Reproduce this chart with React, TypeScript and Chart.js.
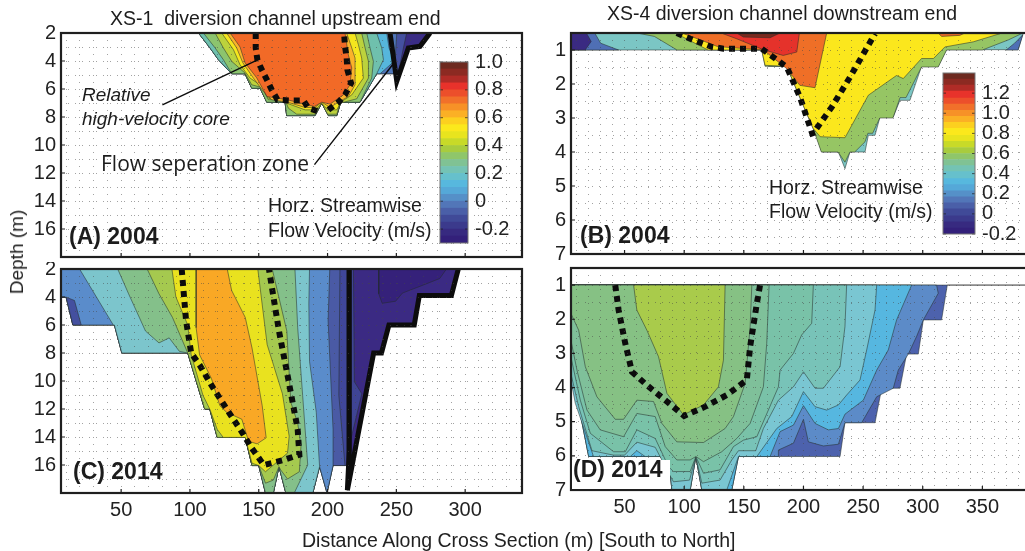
import React, { useEffect, useRef } from "react";
import { Chart, registerables } from "chart.js";

Chart.register(...registerables);

type P = [number, number];

// ---------- Panel A (XS-1, 2004): [distance m, depth m]
const aOutline: P[] = [[106.2,2],[114.6,3.07],[120.7,3.91],[130.4,4.91],[140,4.91],[144.9,5.94],[151,5.94],[155.8,6.94],[169.1,6.94],[170.3,7.9],[190.9,7.9],[195.8,7],[200.6,7.9],[206.7,7.9],[209.6,6.94],[223.6,6.94],[235.7,4.91],[250.3,4.91],[250.3,5.4],[258.7,3.07],[267.2,3.07],[274.5,2]];
const aIndigo: P[] = [[106.2,2],[114.6,3.07],[120.7,3.91],[130.4,4.91],[140,4.91],[144.9,5.94],[151,5.94],[155.8,6.94],[169.1,6.94],[170.3,7.9],[190.9,7.9],[195.8,7],[200.6,7.9],[206.7,7.9],[209.6,6.94],[223.6,6.94],[235.7,4.91],[250.3,4.91],[250.3,5.4],[255.1,3.07],[257.5,2]];
const aBlue: P[] = [[106.2,2],[114.6,3.07],[120.7,3.91],[130.4,4.91],[140,4.91],[144.9,5.94],[151,5.94],[155.8,6.94],[169.1,6.94],[170.3,7.9],[190.9,7.9],[195.8,7],[200.6,7.9],[206.7,7.9],[209.6,6.94],[223.6,6.94],[235.7,4.91],[247.8,4.91],[249,4.03],[250.3,2]];
const aSky: P[] = [[106.2,2],[114.6,3.07],[120.7,3.91],[130.4,4.91],[140,4.91],[144.9,5.94],[151,5.94],[155.8,6.94],[169.1,6.94],[170.3,7.9],[190.9,7.9],[195.8,7],[200.6,7.9],[206.7,7.9],[209.6,6.94],[223.6,6.94],[235.7,4.91],[238.2,4.91],[248.3,4.03],[244.7,3.07],[243,2]];
const aTeal: P[] = [[106.2,2],[114.6,3.07],[120.7,3.91],[130.4,4.91],[140,4.91],[144.9,5.94],[151,5.94],[155.8,6.94],[169.1,6.94],[170.3,7.9],[190.9,7.9],[195.8,7],[200.6,7.9],[206.7,7.9],[209.6,6.94],[223.6,6.94],[235.7,4.91],[240.6,3.91],[239.4,3.07],[235.7,2]];
const aGreen: P[] = [[109.8,2],[118.3,3.07],[124.3,3.91],[130.4,4.91],[140,4.91],[144.9,5.94],[151,5.94],[155.8,6.94],[169.1,6.94],[170.3,7.9],[190.9,7.9],[195.8,7],[200.6,7.9],[206.7,7.9],[209.6,6.94],[223.6,6.94],[232.1,5.22],[233.3,4.03],[230.9,3.07],[228.5,2]];
const aLime: P[] = [[118.3,2],[124.3,3.07],[130.4,4.03],[140,4.86],[144.9,5.7],[152.2,5.89],[157,6.77],[169.1,6.77],[171.5,7.37],[177.6,7.8],[190.9,7.8],[195.8,7.01],[200.1,7.8],[206.7,7.8],[209.1,7.01],[221.2,6.7],[229.7,5.22],[229.7,4.03],[227.3,3.07],[224.8,2]];
const aYellow: P[] = [[123.1,2],[131.6,3.19],[136.4,4.27],[143.7,5.22],[151,5.7],[157,6.65],[170.3,7.01],[183.7,7.49],[190.9,7.49],[195.8,7.01],[200.1,7.49],[206.7,7.49],[209.6,6.94],[217.6,6.42],[226,5.22],[224.8,3.79],[222.4,2.83],[220,2]];
const aAmber: P[] = [[126.7,2],[134,3.07],[138.4,4.12],[146.1,5.22],[153.4,6.18],[159.4,6.77],[170.8,6.94],[183.7,7.32],[190.9,7.32],[195.8,6.94],[201.8,7.32],[207.9,6.94],[215.1,6.54],[220,5.7],[220,3.79],[217.6,3.07],[213.9,2]];
const aOrange: P[] = [[129.2,2],[136.4,3],[140,4.12],[148.5,5.2],[156,6.54],[170.8,6.77],[190.4,7.25],[195.8,6.94],[201.8,7.08],[211.5,6.42],[216.3,5.7],[217.6,4.5],[215.1,3.55],[212.7,2]];
const aThick: P[] = [[245.4,2],[250.3,5.46],[258.7,3.07],[267.2,2.95],[274.5,2]];
const aDashLeft: P[] = [[147.8,2],[147.8,3.07],[149,3.91],[152.2,4.62],[156.3,5.41],[159.4,6.06],[163.6,6.77],[172.8,6.82],[182.5,6.82],[186.1,7.37],[193.3,7.6]];
const aDashRight: P[] = [[200.6,7.49],[207.9,6.94],[212.7,6.42],[217.1,5.58],[214.4,4.62],[213.9,3.79],[212.7,2.95],[212,2]];
const aLeaderCore: P[] = [[80,7.13],[148.8,3.94]];
const aLeaderZone: P[] = [[190.5,11.4],[247.8,4.2]];

// ---------- Panel B (XS-4, 2004)
const bOutline: P[] = [[5,0.5],[5,1],[165,1],[167.8,1.01],[170.6,1.48],[186,1.48],[197.2,2.38],[208.3,3.26],[215.3,4],[229.3,4],[234.8,4.49],[239,4],[251.6,4],[254.4,3.51],[260,3.51],[264.2,2.97],[275.3,2.97],[280.9,2.48],[289.3,2.48],[299,1.48],[313,1.48],[320,0.99],[380,0.99],[384.2,0.5]];
const bBlueLeft: P[] = [[18,0.5],[25,0.5],[30,0.8],[45,1],[5,1],[5,0.5]];
const bPurple: P[] = [[5,0.5],[18,0.5],[22,0.75],[17,1],[5,1]];
const bBlueRight: P[] = [[370,1],[380,1],[384,0.55],[377,0.8]];
const bGreen: P[] = [[60.4,0.5],[75,0.6],[94,1],[165,1],[167.8,1.48],[186,1.48],[197,2.4],[208,3.3],[215,4],[229,4],[234.8,4.3],[239,4],[243,4],[251.6,3.7],[254,3.45],[258,3.45],[264,3],[275,3],[281,2.4],[286,2.4],[299,1.5],[313,1.5],[320,1],[350,1],[372,0.7],[384,0.5]];
const bYellow: P[] = [[92.5,0.5],[120,1],[165,1],[167.8,1.45],[186,1.48],[197,2.4],[208,3.3],[214,3.55],[234.8,3.58],[254.4,2.33],[278,1.75],[283.7,1.84],[299,1.25],[309,1.25],[318.6,0.91],[342.4,0.76],[364.7,0.52]];
const bOrange: P[] = [[98,0.5],[115,0.72],[128,0.9],[166.4,1],[186,1.55],[197,2.04],[209.7,2.11],[219.5,0.5]];
const bRed: P[] = [[131,0.5],[144,0.67],[166.4,0.99],[183,1.16],[194.4,1.06],[196.6,0.5]];
const bDarkRed: P[] = [[144,0.5],[149.7,0.62],[172,0.64],[180.4,0.5]];
const bOrangeRight: P[] = [[313,0.5],[315.8,0.6],[331,0.57],[335.4,0.5]];
const bDashLeft: P[] = [[93.8,0.5],[105,0.67],[123.2,0.91],[133,0.96],[165,0.96],[186,1.5],[197,2.38],[208.3,3.56]];
const bDashRight: P[] = [[211,3.31],[223.7,2.68],[239,1.8],[260,0.52]];

// ---------- Panel C (XS-1, 2014)
const cOutline: P[] = [[6.3,2],[6.3,4.01],[10,4.01],[14.9,6],[45.1,6],[50.5,8],[98.4,8],[110.7,12],[114.4,12],[119.8,14.03],[140.2,14.03],[145.1,16.04],[150,16.04],[154.9,18],[160.6,18],[164.7,16.12],[169.7,18],[189.3,18],[194.2,16.12],[199.6,18],[204,16.04],[213.9,16.04],[214.4,17.81],[233.5,8],[239.2,8],[244.6,6],[263,6],[266.7,3.89],[290,3.89],[295,2]];
const cIndigo: P[] = [[6.3,2],[6.3,4.01],[10,4.01],[14.9,6],[45.1,6],[50.5,8],[98.4,8],[110.7,12],[114.4,12],[119.8,14.03],[140.2,14.03],[145.1,16.04],[150,16.04],[154.9,18],[160.6,18],[164.7,16.12],[169.7,18],[189.3,18],[194.2,16.12],[199.6,18],[204,16.04],[213.9,16.04],[213.9,2]];
const cIndigoLight: P[] = [[6.3,2],[6.3,4.01],[10,4.01],[14.9,6],[45.1,6],[50.5,8],[98.4,8],[110.7,12],[114.4,12],[119.8,14.03],[140.2,14.03],[145.1,16.04],[150,16.04],[154.9,18],[160.6,18],[164.7,16.12],[169.7,18],[189.3,18],[194.2,16.12],[199.6,18],[204,16.04],[212.7,16.04],[208.2,11.03],[209,2]];
const cBlue: P[] = [[6.3,2],[6.3,4.01],[10,4.01],[14.9,6],[45.1,6],[50.5,8],[98.4,8],[110.7,12],[114.4,12],[119.8,14.03],[140.2,14.03],[145.1,16.04],[150,16.04],[154.9,18],[160.6,18],[164.7,16.12],[169.7,18],[189.3,18],[194.2,16.12],[199.6,18],[204,16.04],[204,13.45],[200.4,5.7],[201.6,2]];
const cSliver: P[] = [[10,4.01],[14.9,6],[21,6],[16.1,4.25]];
const cTeal: P[] = [[19.8,2],[44.3,6],[45.1,6],[50.5,8],[98.4,8],[110.7,12],[114.4,12],[119.8,14.03],[140.2,14.03],[145.1,16.04],[150,16.04],[154.9,18],[160.6,18],[164.7,16.12],[169.7,18],[189.3,18],[194.2,16.12],[191.8,12.24],[186.9,8.6],[186.4,4.49],[186.9,2]];
const cGreen: P[] = [[47.5,2],[55.4,3.77],[67.7,6.43],[77.5,7.28],[84.9,6.92],[92.3,7.88],[98.4,8],[110.7,12],[114.4,12],[119.8,14.03],[140.2,14.03],[145.1,16.04],[150,16.04],[154.9,18],[160.6,18],[164.7,16.12],[169.7,18],[175.8,18],[185.6,16],[181.9,11.03],[178.3,6.19],[176.3,2]];
const cLime: P[] = [[68.9,2],[77.5,3.77],[87.3,5.46],[98.4,8],[110.7,12],[114.4,12],[119.8,14.03],[140.2,14.03],[145.1,16.04],[150,16.04],[154.9,17.3],[160.6,17.08],[164.7,16.12],[166,16.36],[170.9,17],[179.5,16.48],[180.7,14.66],[178.3,13],[173.3,11.52],[170.4,6.43],[159.8,2]];
const cYellow: P[] = [[86.9,2],[89.8,4],[98.4,6],[100.9,8.13],[109.5,11.03],[114.4,12],[119.8,13.45],[124.2,14.03],[140.2,14.03],[145.1,15.87],[150,16.04],[154.9,16.48],[170.9,15.15],[172.1,13.94],[167.2,10.91],[156.1,7.4],[149.3,2]];
const cOrange: P[] = [[104.5,2],[104.5,6.19],[107,8.13],[115.6,9.82],[121.7,11.76],[126.7,12.24],[137.7,12.73],[142.6,14.3],[148.8,14.49],[155.4,14.06],[152.5,11.76],[145.1,7.64],[140.2,5.46],[130.3,3.53],[127.1,2]];
const cDarkCore: P[] = [[237.2,2],[237.2,3.77],[239.7,4.45],[249.5,4.3],[254.4,3.72],[269.2,3.16],[281.5,2.68],[286.4,2]];
const cIndigoRight: P[] = [[216.3,2],[218.8,2],[219.5,10.06],[224.9,10.91],[216.3,14.42]];
const cThick: P[] = [[215.8,2],[215.8,15],[214.4,17.8],[233.5,8],[239.2,8],[244.6,6],[263,6],[266.7,3.89],[290,3.89],[295,2]];
const cDash: P[] = [[94,2],[97.2,5.7],[100.9,8],[107,8.85],[115.6,10.3],[129.1,12.36],[138.9,13.82],[143.9,14.66],[153.7,16],[168.4,15.63],[179.5,15.27],[178.3,13.45],[170.9,9.58],[164.7,6.43],[157.4,2]];

// ---------- Panel D (XS-4, 2014)
const dOutline: P[] = [[5,1],[5,4.02],[8.7,4.02],[19.9,6.02],[86.9,6.02],[89.7,7],[105,7],[109.8,6.02],[114.8,7],[139.9,7],[145.5,6.02],[230.7,6.02],[234.8,5.03],[260,5.03],[265.6,4.02],[280.9,4.02],[286.5,3.02],[296.3,3.02],[300.5,2.02],[315.8,2.02],[320.6,1]];
const dBlue: P[] = [[5,1],[5,4.02],[8.7,4.02],[19.9,6.02],[86.9,6.02],[89.7,7],[105,7],[109.8,6.02],[114.8,7],[139.9,7],[145.5,6.02],[179,6.02],[179,5.83],[191.6,5.63],[200,4.93],[204.1,5.59],[216.7,5.71],[229.3,5.66],[234.8,5.03],[248.8,5.03],[261.4,4.27],[275.3,4.02],[279.5,3.49],[287.9,3.02],[294.9,2.5],[300.5,2.02],[313,1.24],[311.6,1]];
const dSky: P[] = [[5,1],[5,4.02],[8.7,4.02],[19.9,6.02],[86.9,6.02],[89.7,7],[105,7],[109.8,6.02],[114.8,7],[139.9,7],[145.5,6.02],[172,6.02],[180.4,5.29],[191.6,5.1],[200,4.53],[209.7,5.05],[220.9,5.24],[229.3,5.2],[234.8,4.78],[250.2,4.37],[261.4,3.49],[271.1,2.9],[278.1,2.02],[290.7,1]];
const dTeal: P[] = [[5,1],[5,3.78],[8.7,4.46],[24,6.02],[54.8,6.02],[60.3,5.85],[67.3,6.02],[86.9,6.02],[89.7,7],[105,7],[109.8,6.02],[114.8,7],[135.7,7],[145.5,6.02],[160.9,6.02],[177.6,5.2],[190.2,4.85],[200,4.12],[209.7,4.56],[219.5,4.66],[229.3,4.51],[236.2,4.22],[247.4,3.78],[253,2.9],[260,1.73],[261.4,1]];
const dTealGreen: P[] = [[5,1],[5,3.59],[11.5,4.56],[22.7,5.85],[40.8,5.98],[50,5.98],[60.3,5.6],[75.7,5.75],[86.9,6.5],[91,6.76],[104.5,6.71],[109.8,6.02],[114.8,6.8],[130.1,6.71],[139.9,6.12],[145.5,5.85],[160,5.85],[166.4,5.2],[179,4.37],[191.6,3.98],[200,3.54],[209.7,4.02],[216.7,4.02],[230.7,3.39],[234.8,2.22],[236.2,1]];
const dMidA: P[] = [[5,1],[5,3.1],[12.9,4.37],[21.3,5.34],[40.8,5.88],[50.6,5.88],[60.3,5.24],[75.7,5.49],[86.9,6.32],[91,6.46],[105,6.46],[109.8,6.02],[116.2,6.51],[130.1,6.41],[141.3,5.73],[149.7,5.54],[160.9,5.44],[179,3.98],[180.4,3.49],[191.6,3],[198.5,2.46],[206.9,2.12],[208.3,1]];
const dMidB: P[] = [[5,1],[5,2.61],[10.1,3.49],[18.5,4.66],[29.6,5.24],[49.2,5.44],[60.3,4.76],[75.7,4.85],[84.1,5.73],[93.8,6.12],[105,6.12],[109.8,6.02],[116.2,6.17],[131.5,5.88],[144.1,5.49],[155.3,5.05],[166.4,3.98],[169.2,2.71],[171.2,1]];
const dGreen: P[] = [[5,1],[5,1.83],[11.5,2.32],[17.1,3.39],[26.8,4.27],[42.2,4.93],[49.2,4.93],[60.3,4.37],[74.3,4.41],[81.3,5.05],[93.8,5.59],[116.2,5.61],[134.3,5.2],[141.3,4.85],[151.1,3.88],[155.3,2.22],[156.7,1]];
const dLime: P[] = [[57.6,1],[60.3,1.73],[68.7,2.32],[78.5,3.1],[85.5,4.17],[99.4,4.8],[116.2,4.51],[128.7,3.98],[132.9,3.2],[134.3,1]];
const dDash: P[] = [[42.2,1],[45,1.73],[50.6,2.71],[56.2,3.54],[68.7,3.93],[85.5,4.41],[100,4.83],[117.6,4.56],[135.7,4.22],[152.5,3.78],[155.3,2.8],[160.9,1.54],[163.6,1]];
const dTopEdge: P[] = [[320.6,1],[400,1]];

// ---------- Ticks and colour bars
const xLabelTicks = [50, 100, 150, 200, 250, 300, 350];
const depthLabelsWide = [2, 4, 6, 8, 10, 12, 14, 16];
const depthLabelsNarrow = [1, 2, 3, 4, 5, 6, 7];
const barTicksA = [-0.2, 0, 0.2, 0.4, 0.6, 0.8, 1.0];
const barTicksB = [-0.2, 0, 0.2, 0.4, 0.6, 0.8, 1.0, 1.2];
const barLevelsA = [-0.3,-0.25,-0.2,-0.15,-0.1,-0.05,0,0.05,0.1,0.15,0.2,0.25,0.3,0.35,0.4,0.45,0.5,0.55,0.6,0.65,0.7,0.75,0.8,0.85,0.9,0.95,1.0];
const barLevelsB = [-0.2,-0.14,-0.08,-0.02,0.05,0.11,0.17,0.23,0.29,0.35,0.42,0.48,0.54,0.6,0.66,0.72,0.78,0.85,0.91,0.97,1.03,1.09,1.15,1.22,1.28,1.34,1.4];
const barColors = ["#33207a","#372a80","#3b3a8c","#404a98","#4a5fa8","#5276b8","#5590c8","#55a8d8","#57b8de","#66c0cc","#74c3b4","#80c294","#8fc66a","#a8cc3e","#c8da28","#e8e41e","#fbe81c","#fcd01f","#fbb025","#f79127","#f1702a","#ec4f2b","#e8322b","#b02c27","#8c2a22","#6d2a20"];

const INK = "#1f1f1f";
const SANS = '"Liberation Sans", Arial, sans-serif';
const DASH = [6, 5];

type Txt = { t: string; x: number; y: number; font: string };

function poly(pts: P[], color: string) {
  const closed = [...pts, pts[0]];
  return {
    type: "scatter", data: closed.map(([x, y]) => ({ x, y })), showLine: true, fill: "shape",
    backgroundColor: color, borderColor: "rgba(35,45,40,0.75)", borderWidth: 0.7, pointRadius: 0, tension: 0,
  };
}
function stroke(pts: P[], width: number, dash: number[] = [], color = "#0c0c0c") {
  return {
    type: "scatter", data: pts.map(([x, y]) => ({ x, y })), showLine: true, fill: false,
    borderColor: color, borderWidth: width, borderDash: dash, borderCapStyle: "butt", borderJoinStyle: "miter",
    pointRadius: 0, tension: 0,
  };
}

function decor(left: number, top: number, texts: Txt[], xTickLabels: number[], yTickLabels: number[], cover?: number[]) {
  return {
    id: "decor",
    afterDraw(chart: any) {
      const { ctx, chartArea: a, scales } = chart;
      ctx.save();
      ctx.strokeStyle = INK;
      ctx.lineWidth = 1.2;
      ctx.beginPath();
      xTickLabels.forEach((v) => {
        const px = scales.x.getPixelForValue(v);
        if (px < a.right) { ctx.moveTo(px, a.bottom); ctx.lineTo(px, a.bottom - 4); }
      });
      yTickLabels.forEach((v) => {
        const py = scales.y.getPixelForValue(v);
        ctx.moveTo(a.left, py); ctx.lineTo(a.left + 4, py);
      });
      ctx.stroke();
      ctx.lineWidth = 2.2;
      ctx.strokeRect(a.left, a.top, a.right - a.left, a.bottom - a.top);
      ctx.translate(-left, -top);
      if (cover) { ctx.fillStyle = "#fff"; ctx.fillRect(cover[0], cover[1], cover[2], cover[3]); }
      ctx.fillStyle = "#1c1c1c";
      ctx.textBaseline = "middle";
      ctx.textAlign = "left";
      texts.forEach((s) => { ctx.font = s.font; ctx.fillText(s.t, s.x, s.y); });
      ctx.restore();
    },
  };
}

type PanelCfg = {
  rect: [number, number, number, number]; box: [number, number, number, number];
  xRange: [number, number]; yRange: [number, number]; yStep: number;
  yLabels: number[]; showX: boolean; datasets: any[]; texts: Txt[]; cover?: number[];
};

function noScalePadding(s: any) {
  s.paddingTop = 0; s.paddingBottom = 0; s.paddingLeft = 0; s.paddingRight = 0;
}

function makePanel(cv: HTMLCanvasElement, c: PanelCfg) {
  const [cl, ct, cw, ch] = c.rect;
  const [l, t, r, b] = c.box;
  const xTicks: { value: number }[] = [];
  for (let v = 10; v < c.xRange[1]; v += 10) if (v > c.xRange[0]) xTicks.push({ value: v });
  const yTicks: { value: number }[] = [];
  for (let v = c.yRange[0]; v <= c.yRange[1] + 1e-6; v += c.yStep) yTicks.push({ value: v });
  const dots = { color: "rgba(70,70,70,0.5)", lineWidth: 1, tickLength: 0, z: 1, drawTicks: false };
  return new Chart(cv, {
    type: "scatter",
    data: { datasets: [...c.datasets].reverse() },
    options: {
      responsive: false, animation: false, events: [],
      layout: { padding: { left: 0, top: t - ct, right: cl + cw - r, bottom: 0 } },
      plugins: { legend: { display: false }, tooltip: { enabled: false }, title: { display: false } },
      scales: {
        x: {
          type: "linear", min: c.xRange[0], max: c.xRange[1],
          grid: dots, border: { display: false, dash: [1, 6] },
          afterBuildTicks: (s: any) => { s.ticks = xTicks; },
          afterFit: (s: any) => { s.height = ct + ch - b; noScalePadding(s); },
          ticks: {
            autoSkip: false, maxRotation: 0, padding: 5, color: "#222",
            font: { family: SANS, size: 20 },
            callback: (v: number) => (c.showX && xLabelTicks.includes(v) ? String(v) : ""),
          },
        },
        y: {
          type: "linear", reverse: true, min: c.yRange[0], max: c.yRange[1],
          grid: dots, border: { display: false, dash: [1, 6] },
          afterBuildTicks: (s: any) => { s.ticks = yTicks; },
          afterFit: (s: any) => { s.width = l - cl; noScalePadding(s); },
          ticks: {
            autoSkip: false, padding: 5, color: "#222",
            font: { family: SANS, size: 20 },
            callback: (v: number) => (c.yLabels.includes(v) ? String(v) : ""),
          },
        },
      },
    } as any,
    plugins: [decor(cl, ct, c.texts, xLabelTicks, c.yLabels, c.cover)],
  } as any);
}

function makeColorbar(cv: HTMLCanvasElement, rect: number[], box: number[], levels: number[], ticks: number[]) {
  const [cl, ct, cw, ch] = rect;
  const [l, t, r, b] = box;
  const datasets = barColors.map((color, i) => ({
    label: "v" + i, data: [[levels[i], levels[i + 1]]], backgroundColor: color, borderWidth: 0,
    barPercentage: 1, categoryPercentage: 1, grouped: false,
  }));
  return new Chart(cv, {
    type: "bar",
    data: { labels: ["velocity"], datasets },
    options: {
      responsive: false, animation: false, events: [],
      layout: { padding: { left: l - cl, top: t - ct, bottom: ct + ch - b, right: 0 } },
      plugins: { legend: { display: false }, tooltip: { enabled: false } },
      scales: {
        x: { display: false },
        y: {
          position: "right", min: levels[0], max: levels[levels.length - 1],
          grid: { display: false, drawTicks: false }, border: { display: false },
          afterBuildTicks: (s: any) => { s.ticks = ticks.map((value) => ({ value })); },
          afterFit: (s: any) => { s.width = cl + cw - r; noScalePadding(s); },
          ticks: {
            autoSkip: false, padding: 7, color: "#222",
            font: { family: SANS, size: 20 },
            callback: (v: number) => (v === 0 ? "0" : v.toFixed(1)),
          },
        },
      },
    } as any,
    plugins: [{
      id: "barFrame",
      afterDraw(chart: any) {
        const { ctx, chartArea: a, scales } = chart;
        ctx.save();
        ctx.strokeStyle = "rgba(30,30,30,0.7)";
        ctx.lineWidth = 1;
        ctx.beginPath();
        ticks.forEach((v) => {
          const py = scales.y.getPixelForValue(v);
          ctx.moveTo(a.left, py); ctx.lineTo(a.left + 3, py);
          ctx.moveTo(a.right - 3, py); ctx.lineTo(a.right, py);
        });
        ctx.stroke();
        ctx.strokeStyle = "#777";
        ctx.strokeRect(a.left, a.top, a.right - a.left, a.bottom - a.top);
        ctx.restore();
      },
    }],
  } as any);
}

const PANELS: PanelCfg[] = [
  {
    rect: [0, 0, 530, 262], box: [61, 33, 522, 257], xRange: [6.3, 341.3], yRange: [2, 18], yStep: 1,
    yLabels: depthLabelsWide, showX: false,
    datasets: [
      poly(aOutline, "#3a2c85"), poly(aIndigo, "#44509f"), poly(aBlue, "#4f76b8"), poly(aSky, "#56b6dc"),
      poly(aTeal, "#6fc0ad"), poly(aGreen, "#8cc46e"), poly(aLime, "#bcd23c"), poly(aYellow, "#f5e61e"),
      poly(aAmber, "#fbb32a"), poly(aOrange, "#f26a27"),
      stroke(aThick, 5), stroke(aDashLeft, 6, DASH), stroke(aDashRight, 6, DASH),
      stroke(aLeaderCore, 1.4), stroke(aLeaderZone, 1.4),
    ],
    texts: [
      { t: "XS-1  diversion channel upstream end", x: 110, y: 20, font: `19.5px ${SANS}` },
      { t: "Relative", x: 82, y: 96, font: `italic 19px ${SANS}` },
      { t: "high-velocity core", x: 82, y: 120, font: `italic 19px ${SANS}` },
      { t: "Flow seperation zone", x: 101, y: 165, font: `21px "Open Sans", sans-serif` },
      { t: "Horz. Streamwise", x: 268, y: 207, font: `19.5px ${SANS}` },
      { t: "Flow Velocity (m/s)", x: 268, y: 232, font: `19.5px ${SANS}` },
      { t: "(A) 2004", x: 69, y: 238, font: `bold 23px ${SANS}` },
    ],
  },
  {
    rect: [530, 0, 520, 262], box: [571, 33, 1042, 254], xRange: [5.1, 400], yRange: [0.5, 7], yStep: 0.5,
    yLabels: depthLabelsNarrow, showX: false,
    datasets: [
      poly(bOutline, "#7bc6c4"), poly(bBlueLeft, "#4f6fb5"), poly(bPurple, "#3a2a82"), poly(bBlueRight, "#4f6fb5"),
      poly(bGreen, "#96c564"), poly(bYellow, "#fbe71d"), poly(bOrange, "#ef6f27"), poly(bRed, "#e5322b"),
      poly(bDarkRed, "#7a2a1e"), poly(bOrangeRight, "#ef6f27"),
      stroke(bDashLeft, 6, DASH), stroke(bDashRight, 6, DASH),
    ],
    texts: [
      { t: "XS-4 diversion channel downstream end", x: 607, y: 15, font: `19.5px ${SANS}` },
      { t: "Horz. Streamwise", x: 769, y: 189, font: `19.5px ${SANS}` },
      { t: "Flow Velocity (m/s)", x: 769, y: 213, font: `19.5px ${SANS}` },
      { t: "(B) 2004", x: 580, y: 237, font: `bold 23px ${SANS}` },
    ],
  },
  {
    rect: [0, 262, 530, 268], box: [61, 269, 522, 493], xRange: [6.3, 341.3], yRange: [2, 18], yStep: 1,
    yLabels: depthLabelsWide, showX: true,
    datasets: [
      poly(cOutline, "#3b2a83"), poly(cIndigo, "#40479a"), poly(cIndigoLight, "#4a5aa5"), poly(cBlue, "#5a8ccb"),
      poly(cSliver, "#44509f"), poly(cTeal, "#7cc5cc"), poly(cGreen, "#84c08a"), poly(cLime, "#a5c94f"),
      poly(cYellow, "#e9e21f"), poly(cOrange, "#f9a825"), poly(cDarkCore, "#35217a"), poly(cIndigoRight, "#3f4494"),
      stroke(cThick, 5), stroke(cDash, 6, DASH),
    ],
    texts: [{ t: "(C) 2014", x: 73, y: 473, font: `bold 23px ${SANS}` }],
  },
  {
    rect: [530, 262, 520, 268], box: [571, 268, 1042, 490], xRange: [5.1, 400], yRange: [0.5, 7], yStep: 0.5,
    yLabels: depthLabelsNarrow, showX: true,
    datasets: [
      poly(dOutline, "#4d62ad"), poly(dBlue, "#5c8bc8"), poly(dSky, "#56b7e0"), poly(dTeal, "#7ac6d2"),
      poly(dTealGreen, "#78c3b8"), poly(dMidA, "#79c2a8"), poly(dMidB, "#7fc09a"), poly(dGreen, "#86c184"),
      poly(dLime, "#a9cb4b"), stroke(dTopEdge, 1, [], "#333"), stroke(dDash, 6, DASH),
    ],
    texts: [{ t: "(D) 2014", x: 573, y: 471, font: `bold 23px ${SANS}` }],
    cover: [572, 460, 98, 29],
  },
];

const BARS = [
  { rect: [430, 50, 90, 205], box: [440, 62, 468, 243], levels: barLevelsA, ticks: barTicksA },
  { rect: [935, 60, 90, 185], box: [943, 73, 975, 234], levels: barLevelsB, ticks: barTicksB },
];

export default function App() {
  const panelRefs = useRef<(HTMLCanvasElement | null)[]>([]);
  const barRefs = useRef<(HTMLCanvasElement | null)[]>([]);
  useEffect(() => {
    const charts = [
      ...PANELS.map((c, i) => makePanel(panelRefs.current[i]!, c)),
      ...BARS.map((b, i) => makeColorbar(barRefs.current[i]!, b.rect, b.box, b.levels, b.ticks)),
    ];
    return () => charts.forEach((c) => c.destroy());
  }, []);
  const abs = (r: number[]): React.CSSProperties => ({ position: "absolute", left: r[0], top: r[1], width: r[2], height: r[3], display: "block" });
  return (
    <div style={{ position: "absolute", left: 0, top: 0, width: 1025, height: 551, overflow: "hidden", background: "#fff", filter: "blur(0.4px)" }}>
      {PANELS.map((c, i) => (
        <canvas key={i} ref={(el) => { panelRefs.current[i] = el; }} width={c.rect[2]} height={c.rect[3]} style={abs(c.rect)} />
      ))}
      {BARS.map((b, i) => (
        <canvas key={i} ref={(el) => { barRefs.current[i] = el; }} width={b.rect[2]} height={b.rect[3]} style={abs(b.rect)} />
      ))}
      <div style={{ position: "absolute", left: 17, top: 252, transform: "translate(-50%,-50%) rotate(-90deg)", font: `19px ${SANS}`, color: "#222", whiteSpace: "nowrap" }}>Depth (m)</div>
      <div style={{ position: "absolute", left: 302, top: 540, transform: "translateY(-50%)", font: `19.5px ${SANS}`, color: "#222", whiteSpace: "nowrap" }}>Distance Along Cross Section (m) [South to North]</div>
    </div>
  );
}
